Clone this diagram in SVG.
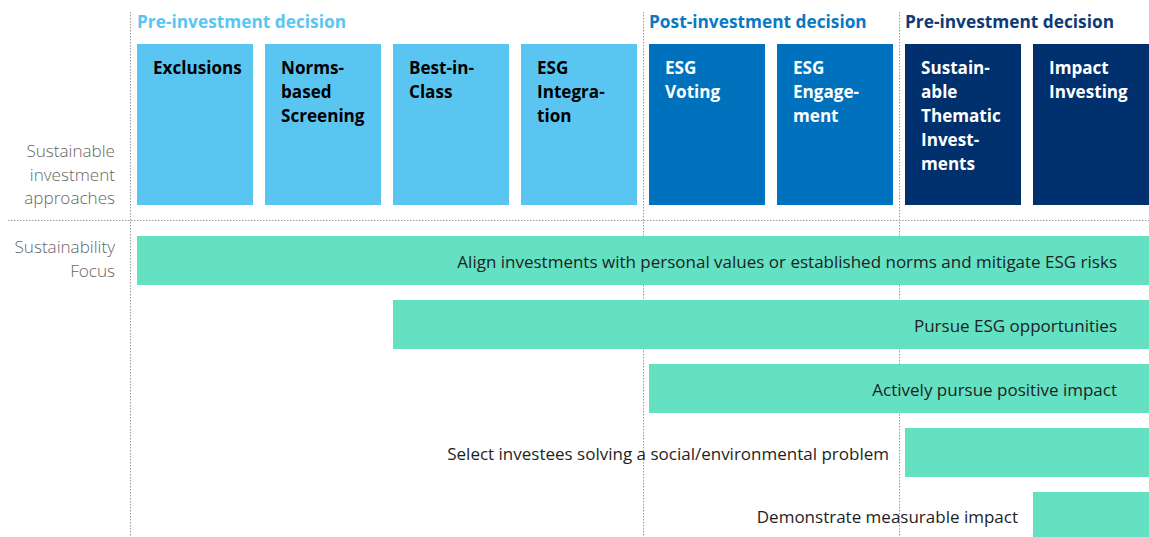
<svg xmlns="http://www.w3.org/2000/svg" width="1149" height="537" viewBox="0 0 1149 537">
<style>
.hdr{font-family:"Open Sans","Noto Sans",sans-serif;font-weight:700;font-size:17.3px}
.lbl{font-family:"Open Sans","Noto Sans",sans-serif;font-weight:700;font-size:17.1px}
.side{font-family:"Open Sans","Noto Sans",sans-serif;font-weight:300;font-size:17.1px;fill:#666666;text-anchor:end}
.bt{font-family:"Open Sans","Noto Sans",sans-serif;font-size:17px;fill:#1e1e1e;text-anchor:end}
.dot{stroke:#9a9a9a;stroke-width:1;stroke-dasharray:1.5 1.5;fill:none}
.lb{fill:#5BC5F2}.mb{fill:#0071BC}.db{fill:#00306E}
.g{fill:#64E0C2}
</style>
<rect width="1149" height="537" fill="#ffffff"/>
<g id="grid">
<line class="dot" x1="130.5" y1="12" x2="130.5" y2="537"/>
<line class="dot" x1="643.5" y1="12" x2="643.5" y2="537"/>
<line class="dot" x1="899.5" y1="12" x2="899.5" y2="537"/>
<line class="dot" x1="8" y1="220.5" x2="1149" y2="220.5"/>
</g>
<g id="headers">
<text class="hdr" x="137" y="27.5" fill="#5BC5F2">Pre-investment decision</text>
<text class="hdr" x="649" y="27.5" fill="#0A78C2">Post-investment decision</text>
<text class="hdr" x="905" y="27.5" fill="#0D3B78">Pre-investment decision</text>
</g>
<g id="side-labels">
<text class="side" x="115" y="157">Sustainable</text>
<text class="side" x="115" y="180.5">investment</text>
<text class="side" x="115" y="204">approaches</text>
<text class="side" x="115" y="253">Sustainability</text>
<text class="side" x="115" y="276.5">Focus</text>
</g>
<g id="node-exclusions">
<rect class="lb" x="137" y="44" width="116" height="161"/>
<text class="lbl" x="153" y="73.5" fill="#000">Exclusions</text>
</g>
<g id="node-norms">
<rect class="lb" x="265" y="44" width="116" height="161"/>
<text class="lbl" x="281" y="73.5" fill="#000"><tspan x="281">Norms-</tspan><tspan x="281" dy="24">based</tspan><tspan x="281" dy="24">Screening</tspan></text>
</g>
<g id="node-bestinclass">
<rect class="lb" x="393" y="44" width="116" height="161"/>
<text class="lbl" x="409" y="73.5" fill="#000"><tspan x="409">Best-in-</tspan><tspan x="409" dy="24">Class</tspan></text>
</g>
<g id="node-esg-integration">
<rect class="lb" x="521" y="44" width="116" height="161"/>
<text class="lbl" x="537" y="73.5" fill="#000"><tspan x="537">ESG</tspan><tspan x="537" dy="24">Integra-</tspan><tspan x="537" dy="24">tion</tspan></text>
</g>
<g id="node-esg-voting">
<rect class="mb" x="649" y="44" width="116" height="161"/>
<text class="lbl" x="665" y="73.5" fill="#fff"><tspan x="665">ESG</tspan><tspan x="665" dy="24">Voting</tspan></text>
</g>
<g id="node-esg-engagement">
<rect class="mb" x="777" y="44" width="116" height="161"/>
<text class="lbl" x="793" y="73.5" fill="#fff"><tspan x="793">ESG</tspan><tspan x="793" dy="24">Engage-</tspan><tspan x="793" dy="24">ment</tspan></text>
</g>
<g id="node-thematic">
<rect class="db" x="905" y="44" width="116" height="161"/>
<text class="lbl" x="921" y="73.5" fill="#fff"><tspan x="921">Sustain-</tspan><tspan x="921" dy="24">able</tspan><tspan x="921" dy="24">Thematic</tspan><tspan x="921" dy="24">Invest-</tspan><tspan x="921" dy="24">ments</tspan></text>
</g>
<g id="node-impact">
<rect class="db" x="1033" y="44" width="116" height="161"/>
<text class="lbl" x="1049" y="73.5" fill="#fff"><tspan x="1049">Impact</tspan><tspan x="1049" dy="24">Investing</tspan></text>
</g>
<g id="focus-bars">
<g id="bar-align">
<rect class="g" x="137" y="236" width="1012" height="49"/>
<text class="bt" x="1117" y="268">Align investments with personal values or established norms and mitigate ESG risks</text>
</g>
<g id="bar-opportunities">
<rect class="g" x="393" y="300" width="756" height="49"/>
<text class="bt" x="1117" y="332">Pursue ESG opportunities</text>
</g>
<g id="bar-positive">
<rect class="g" x="649" y="364" width="500" height="49"/>
<text class="bt" x="1117" y="396">Actively pursue positive impact</text>
</g>
<g id="bar-select">
<rect class="g" x="905" y="428" width="244" height="49"/>
<text class="bt" x="889" y="460">Select investees solving a social/environmental problem</text>
</g>
<g id="bar-demonstrate">
<rect class="g" x="1033" y="492" width="116" height="49"/>
<text class="bt" x="1018" y="523">Demonstrate measurable impact</text>
</g>
</g>
</svg>
